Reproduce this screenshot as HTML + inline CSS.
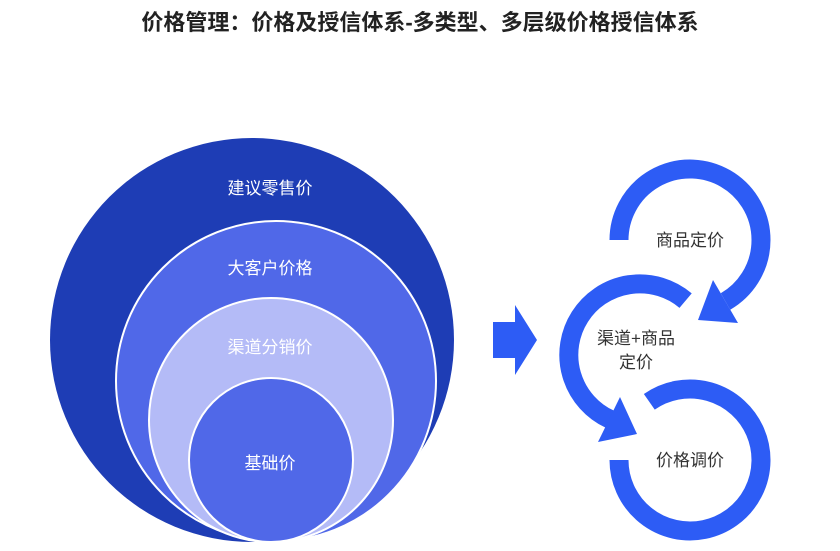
<!DOCTYPE html>
<html><head><meta charset="utf-8"><style>
body{margin:0;width:840px;height:551px;background:#fff;overflow:hidden;font-family:"Liberation Sans","Noto Sans CJK SC",sans-serif;}
</style></head><body>
<svg width="840" height="551" xmlns="http://www.w3.org/2000/svg" style="position:absolute;left:0;top:0">
<text x="420" y="30" text-anchor="middle" font-size="22" font-weight="bold" fill="#222" font-family="Liberation Sans, Noto Sans CJK SC, sans-serif">价格管理：价格及授信体系-多类型、多层级价格授信体系</text>
<circle cx="252" cy="340" r="202" fill="#1e3db5"/>
<circle cx="276" cy="381" r="160" fill="#5068e8" stroke="#fff" stroke-width="2"/>
<circle cx="271" cy="420" r="122" fill="#b4bbf7" stroke="#fff" stroke-width="2"/>
<circle cx="271" cy="460" r="82" fill="#5068e8" stroke="#fff" stroke-width="2"/>
<g font-size="17" fill="#fff" text-anchor="middle" font-family="Liberation Sans, Noto Sans CJK SC, sans-serif">
<text x="270" y="194">建议零售价</text>
<text x="270" y="274">大客户价格</text>
<text x="270" y="353">渠道分销价</text>
<text x="270" y="469">基础价</text>
</g>
<path d="M493 322 H515 V305 L537 340 L515 375 V358 H493 Z" fill="#2d5cf5"/>
<g fill="none" stroke="#2d5cf5" stroke-width="19">
<path d="M619 240 A71 71 0 1 1 725.5 301.5"/>
<path d="M685.6 300.6 A71 71 0 1 0 610 419.3"/>
<path d="M649.3 401.8 A71 71 0 1 1 619 460"/>
</g>
<g fill="#2d5cf5">
<polygon points="738,323 713,280 698,320"/>
<polygon points="598,442 620,397 637,434"/>
</g>
<g font-size="17" fill="#333" text-anchor="middle" font-family="Liberation Sans, Noto Sans CJK SC, sans-serif">
<text x="690" y="246">商品定价</text>
<text x="636" y="344">渠道+商品</text>
<text x="636" y="368">定价</text>
<text x="690" y="466">价格调价</text>
</g>
</svg>
</body></html>
